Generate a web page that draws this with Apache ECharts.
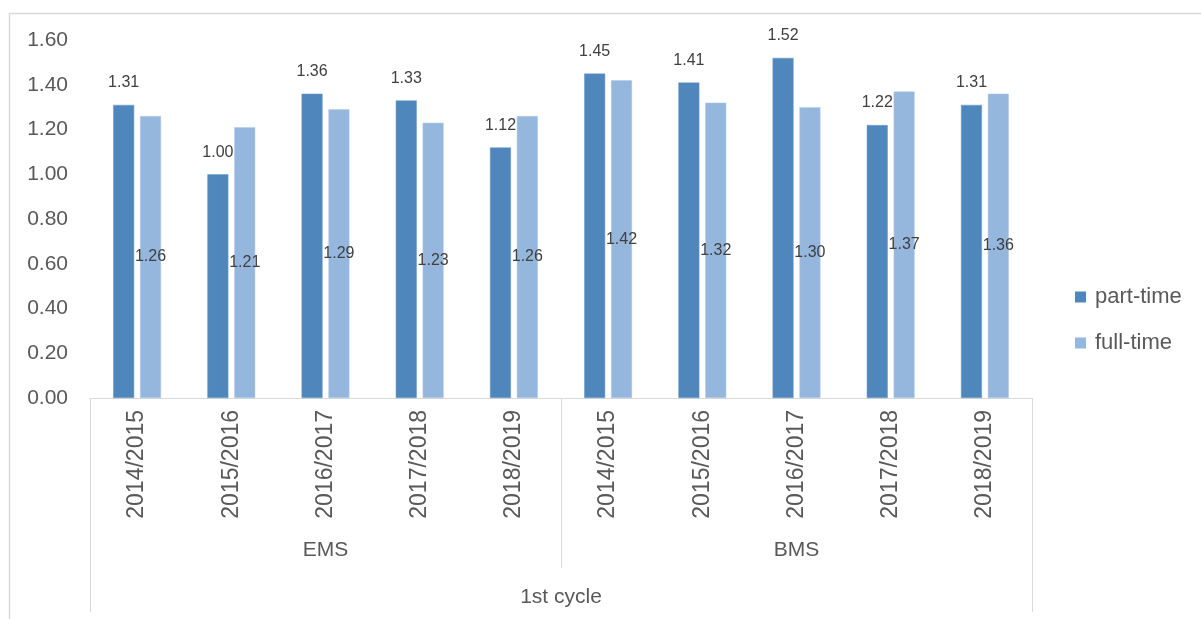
<!DOCTYPE html>
<html>
<head>
<meta charset="utf-8">
<script src="https://cdn.jsdelivr.net/npm/echarts@6/dist/echarts.min.js"></script>
<style>
  html, body { margin: 0; padding: 0; background: #ffffff; }
  #chart { width: 1201px; height: 619px; }
</style>
</head>
<body>
<div id="chart"></div>
<script>
// Academic years, repeated for each programme group
const years = ['2014/2015', '2015/2016', '2016/2017', '2017/2018', '2018/2019',
               '2014/2015', '2015/2016', '2016/2017', '2017/2018', '2018/2019'];
const programmes = ['EMS', 'BMS'];
const cycles = ['1st cycle'];

const partTime = [1.31, 1.00, 1.36, 1.33, 1.12, 1.45, 1.41, 1.52, 1.22, 1.31];
const fullTime = [1.26, 1.21, 1.29, 1.23, 1.26, 1.42, 1.32, 1.30, 1.37, 1.36];

const seriesNames = ['part-time', 'full-time'];

const FONT = 'Liberation Sans, Arial, sans-serif';
const AXIS_TEXT = '#595959';
const LINE = '#D9D9D9';

const chart = echarts.init(document.getElementById('chart'), null, { renderer: 'canvas' });

chart.setOption({
  animation: false,
  backgroundColor: '#ffffff',
  textStyle: { fontFamily: FONT },
  graphic: [{
    type: 'rect',
    left: 7, top: 11,
    shape: { width: 1250, height: 650 },
    style: { fill: 'none', stroke: LINE, lineWidth: 1.5 },
    silent: true
  }],
  grid: { left: 90, right: 169, top: 40, bottom: 221, containLabel: false },
  legend: {
    data: seriesNames,
    orient: 'vertical',
    left: 1075,
    top: 286,
    padding: 0,
    itemWidth: 11,
    itemHeight: 11,
    itemGap: 24,
    icon: 'rect',
    itemStyle: { borderWidth: 0 },
    textStyle: { fontSize: 22, color: AXIS_TEXT, fontFamily: FONT, padding: [0, 0, 0, 4] }
  },
  xAxis: [
    {
      type: 'category',
      data: years,
      axisLine: { show: true, lineStyle: { color: LINE, width: 1 } },
      axisTick: { show: false },
      axisLabel: {
        rotate: 90, margin: 12, interval: 0,
        fontSize: 23, color: AXIS_TEXT, fontFamily: FONT
      }
    },
    {
      type: 'category',
      data: programmes,
      position: 'bottom',
      axisLine: { show: false },
      axisTick: { show: true, length: 170, lineStyle: { color: LINE, width: 1 } },
      axisLabel: { margin: 142, interval: 0, fontSize: 21, color: AXIS_TEXT, fontFamily: FONT }
    },
    {
      type: 'category',
      data: cycles,
      position: 'bottom',
      axisLine: { show: false },
      axisTick: { show: true, length: 214, lineStyle: { color: LINE, width: 1 } },
      axisLabel: { margin: 189, interval: 0, fontSize: 21, color: AXIS_TEXT, fontFamily: FONT }
    }
  ],
  yAxis: {
    type: 'value',
    min: 0, max: 1.6, interval: 0.2,
    axisLine: { show: false },
    axisTick: { show: false },
    splitLine: { show: false },
    axisLabel: {
      margin: 22, fontSize: 21, color: AXIS_TEXT, fontFamily: FONT,
      formatter: v => v.toFixed(2)
    }
  },
  series: [
    {
      name: seriesNames[0],
      type: 'bar',
      xAxisIndex: 0,
      data: partTime,
      barWidth: 21,
      barGap: '28%',
      itemStyle: { color: '#4F87BC', borderColor: '#6E9CC9', borderWidth: 0.5 },
      label: {
        show: true, position: 'top', distance: 14,
        fontSize: 16, color: '#404040', fontFamily: FONT,
        formatter: p => p.value.toFixed(2)
      }
    },
    {
      name: seriesNames[1],
      type: 'bar',
      xAxisIndex: 0,
      data: fullTime,
      barWidth: 21,
      itemStyle: { color: '#95B7DE', borderColor: '#B3CBE8', borderWidth: 0.5 },
      label: {
        show: true, position: 'inside',
        fontSize: 16, color: '#404040', fontFamily: FONT,
        formatter: p => p.value.toFixed(2)
      }
    }
  ]
});
</script>
</body>
</html>
